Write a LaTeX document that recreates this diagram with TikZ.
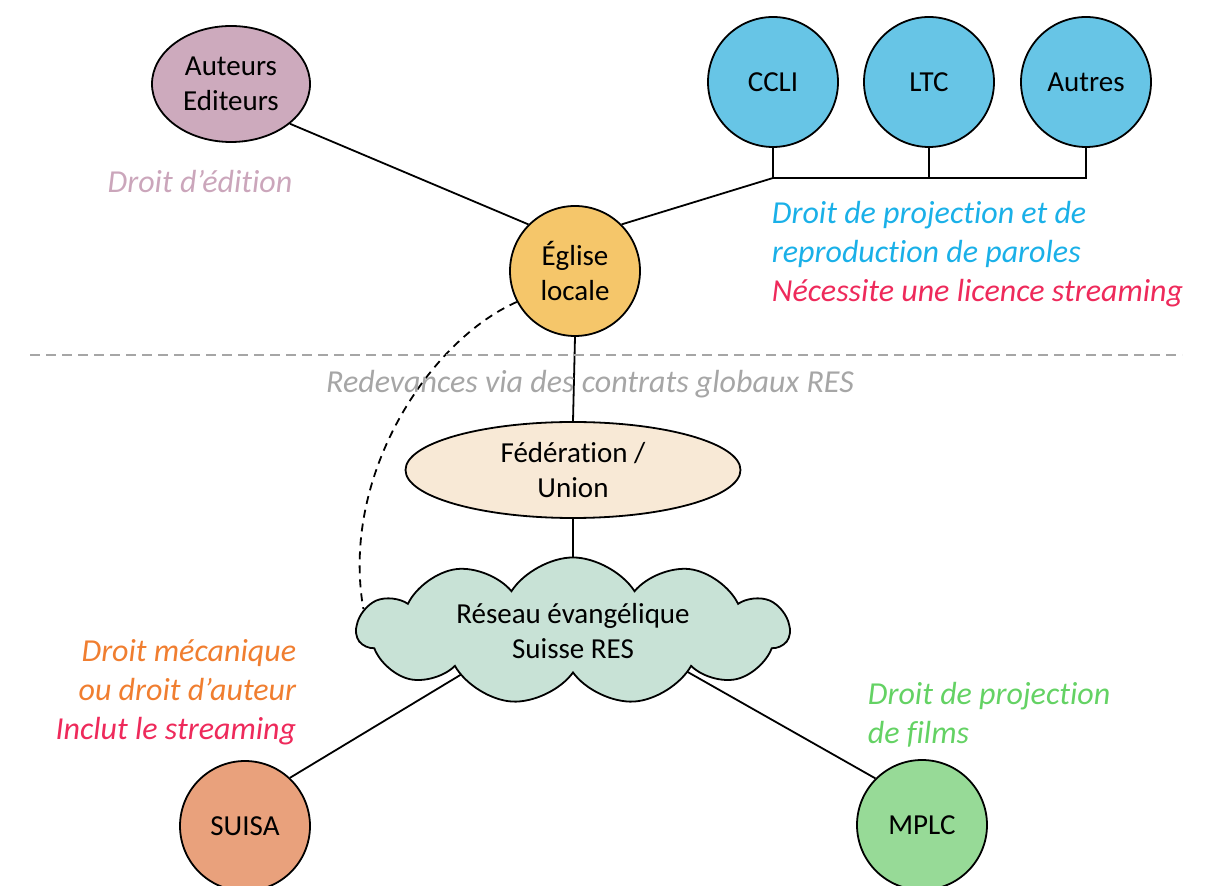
\documentclass[tikz,border=0pt]{standalone}
\usepackage{fontspec}
\setmainfont{Carlito}[Ligatures={NoCommon}]
\usetikzlibrary{shapes.geometric,shapes.symbols}
\definecolor{mauve}{HTML}{CDAABD}
\definecolor{mauvetxt}{HTML}{CBA6BB}
\definecolor{ciel}{HTML}{67C5E6}
\definecolor{cieltxt}{HTML}{1AB0E8}
\definecolor{ocre}{HTML}{F5C66A}
\definecolor{creme}{HTML}{F8E9D6}
\definecolor{menthe}{HTML}{C8E2D6}
\definecolor{saumon}{HTML}{E9A17C}
\definecolor{vert}{HTML}{97DA97}
\definecolor{verttxt}{HTML}{64D264}
\definecolor{rouge}{HTML}{EE2A5B}
\definecolor{orange}{HTML}{F07E30}
\definecolor{grisclair}{HTML}{A6A6A6}

\begin{document}
\begin{tikzpicture}[x=0.5pt, y=-0.5pt, line width=0.9pt,
    org/.style={circle, draw, minimum size=65pt, inner sep=0pt, align=center,
      font=\fontsize{14.5}{17.5}\selectfont},
    ovale/.style={ellipse, draw, inner sep=0pt, align=center,
      font=\fontsize{14.5}{17.5}\selectfont},
    droit/.style={inner sep=0pt, font=\fontsize{16}{19.5}\selectfont\itshape}]
  \useasboundingbox (0,0) rectangle (1209,886);

  % organismes
  \node (auteurs) [ovale, fill=mauve, minimum width=79pt, minimum height=58pt] at (231,84) {Auteurs\\Editeurs};
  \node (ccli) [org, fill=ciel] at (773,82) {CCLI};
  \node (ltc) [org, fill=ciel] at (929,82) {LTC};
  \node (autres) [org, fill=ciel] at (1086,82) {Autres};
  \node (eglise) [org, fill=ocre] at (575,271) {Église\\locale};
  \node (federation) [ovale, fill=creme, minimum width=167.5pt, minimum height=48pt] at (573,470) {Fédération /\\Union};
  \node (suisa) [org, fill=saumon] at (245,826) {SUISA};
  \node (mplc) [org, fill=vert] at (922,825) {MPLC};

  % liaisons vers le RES, recouvertes par le nuage
  \coordinate (resc) at (573,607);
  \draw (suisa.47) -- (resc);
  \draw (mplc.135) -- (resc);
  \node (res) [cloud, draw, fill=menthe, cloud puffs=11, cloud puff arc=115, cloud ignores aspect,
    minimum width=216pt, minimum height=73pt, align=center,
    font=\fontsize{14.5}{17.5}\selectfont] at (573,631) {Réseau évangélique\\Suisse RES};

  % liaisons
  \coordinate (bus) at (773,178);
  \draw (auteurs.-34) -- (eglise.135);
  \draw (eglise.45) -- (bus);
  \draw (ccli.south) -- (bus) -- (bus -| autres.south) -- (autres.south);
  \draw (ltc.south) -- (bus -| ltc.south);
  \draw (eglise.south) -- (federation.north);
  \draw (federation.south) -- (res);
  \draw [dash pattern=on 4pt off 3pt] (eglise.208) .. controls (430,340) and (340,475) .. (res.174);

  % separation
  \coordinate (sepg) at (30,355);
  \coordinate (sepd) at (1182,355);
  \draw [grisclair, line width=0.75pt, dash pattern=on 5pt off 3pt] (sepg) -- (sepd);

  % droits
  \node (edition) [droit, text=mauvetxt] at (200,182) {Droit d’édition};
  \node (paroles) [droit, anchor=west, align=left] at (771,254)
    {\textcolor{cieltxt}{Droit de projection et de}\\
     \textcolor{cieltxt}{reproduction de paroles}\\
     \textcolor{rouge}{Nécessite une licence streaming}};
  \node (redevances) [droit, text=grisclair] at (590,384) {Redevances via des contrats globaux RES};
  \node (mecanique) [droit, anchor=east, align=right] at (297,692)
    {\textcolor{orange}{Droit mécanique}\\
     \textcolor{orange}{ou droit d’auteur}\\
     \textcolor{rouge}{Inclut le streaming}};
  \node (films) [droit, text=verttxt, anchor=west, align=left] at (867,715) {Droit de projection\\de films};
\end{tikzpicture}
\end{document}
